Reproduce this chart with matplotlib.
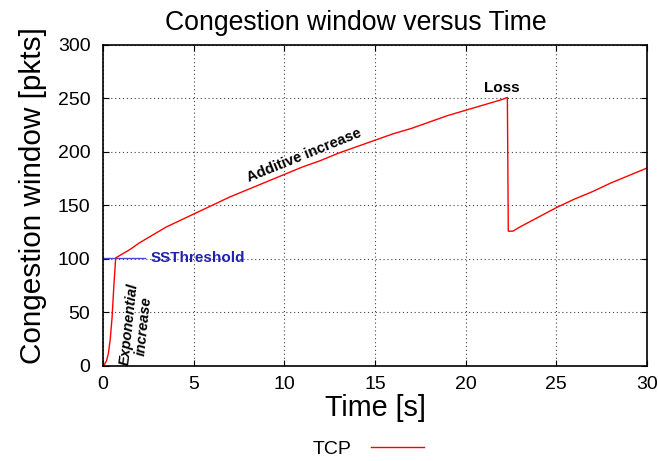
import matplotlib
matplotlib.use('Agg')
import matplotlib.pyplot as plt

plt.rcParams['font.family'] = ['Liberation Sans', 'DejaVu Sans']

# slow start, additive increase, loss, then additive increase again
time_s = [0, 0.1, 0.2, 0.3, 0.4, 0.5, 0.6, 0.7, 1.0, 1.5,
          2, 2.5, 3, 3.5, 4, 5, 6, 7, 8, 9, 10, 11, 12, 13, 14, 15, 16, 17, 18,
          19, 20, 21, 22, 22.3,
          22.35, 22.6, 23, 24, 25, 26, 27, 28, 29, 30]
cwnd = [0, 2, 5, 12, 25, 45, 75, 101, 104, 109,
        115, 120, 125, 130, 134, 142, 150, 158, 165, 172, 179, 186, 192, 199,
        205, 211, 217, 222, 228, 234, 239, 244, 249, 251,
        126, 126, 130, 139, 148, 156, 163, 171, 178, 185]

ssthresh = 101
ssthresh_t = [0, 2.3]

fig = plt.figure(figsize=(6.58, 4.61), dpi=100)
ax = fig.add_axes([0.1565, 0.2061, 0.8268, 0.6963])

ax.plot(ssthresh_t, [ssthresh, ssthresh], color='#4a4ad8', lw=1.0)
ax.plot(time_s, cwnd, color='#ff0000', lw=1.0, label='TCP')

ax.set_xlim(0, 30)
ax.set_ylim(0, 300)
ax.set_xticks(range(0, 31, 5))
ax.set_yticks(range(0, 301, 50))
ax.tick_params(direction='in', top=True, right=True, labelsize=14, length=4)
ax.tick_params(axis='y', pad=9)
ax.tick_params(axis='x', pad=7)
ax.grid(True, color='#444444', linestyle=(0, (1, 2.5)), lw=0.8)
for s in ax.spines.values():
    s.set_linewidth(1.2)

ax.set_title('Congestion window versus Time', fontsize=19.2, pad=11, x=0.465)
ax.set_xlabel('Time [s]', fontsize=20.7, labelpad=1)
ax.set_ylabel('Congestion window [pkts]', fontsize=21.4)
ax.yaxis.set_label_coords(-0.103, 0.53)

ax.text(2.6, ssthresh, 'SSThreshold', color='#2222b0', fontsize=11,
        fontweight='bold', va='center', ha='left')
ax.text(22.0, 260, 'Loss', color='black', fontsize=11, fontweight='bold',
        va='center', ha='center')
ax.text(11.1, 197, 'Additive increase', color='black', fontsize=10.6,
        fontweight='bold', rotation=22, va='center', ha='center',
        rotation_mode='anchor')
ax.text(1.85, 38, 'Exponential\nincrease', color='black', fontsize=10.5,
        fontweight='bold', fontstyle='italic', rotation=84, va='center',
        ha='center', rotation_mode='anchor', linespacing=1.0)

leg = fig.legend(loc='center', bbox_to_anchor=(0.56, 0.026), frameon=False,
                 markerfirst=False, fontsize=14, handlelength=2.7,
                 handletextpad=1.0)

fig.savefig('out.png', dpi=100)
